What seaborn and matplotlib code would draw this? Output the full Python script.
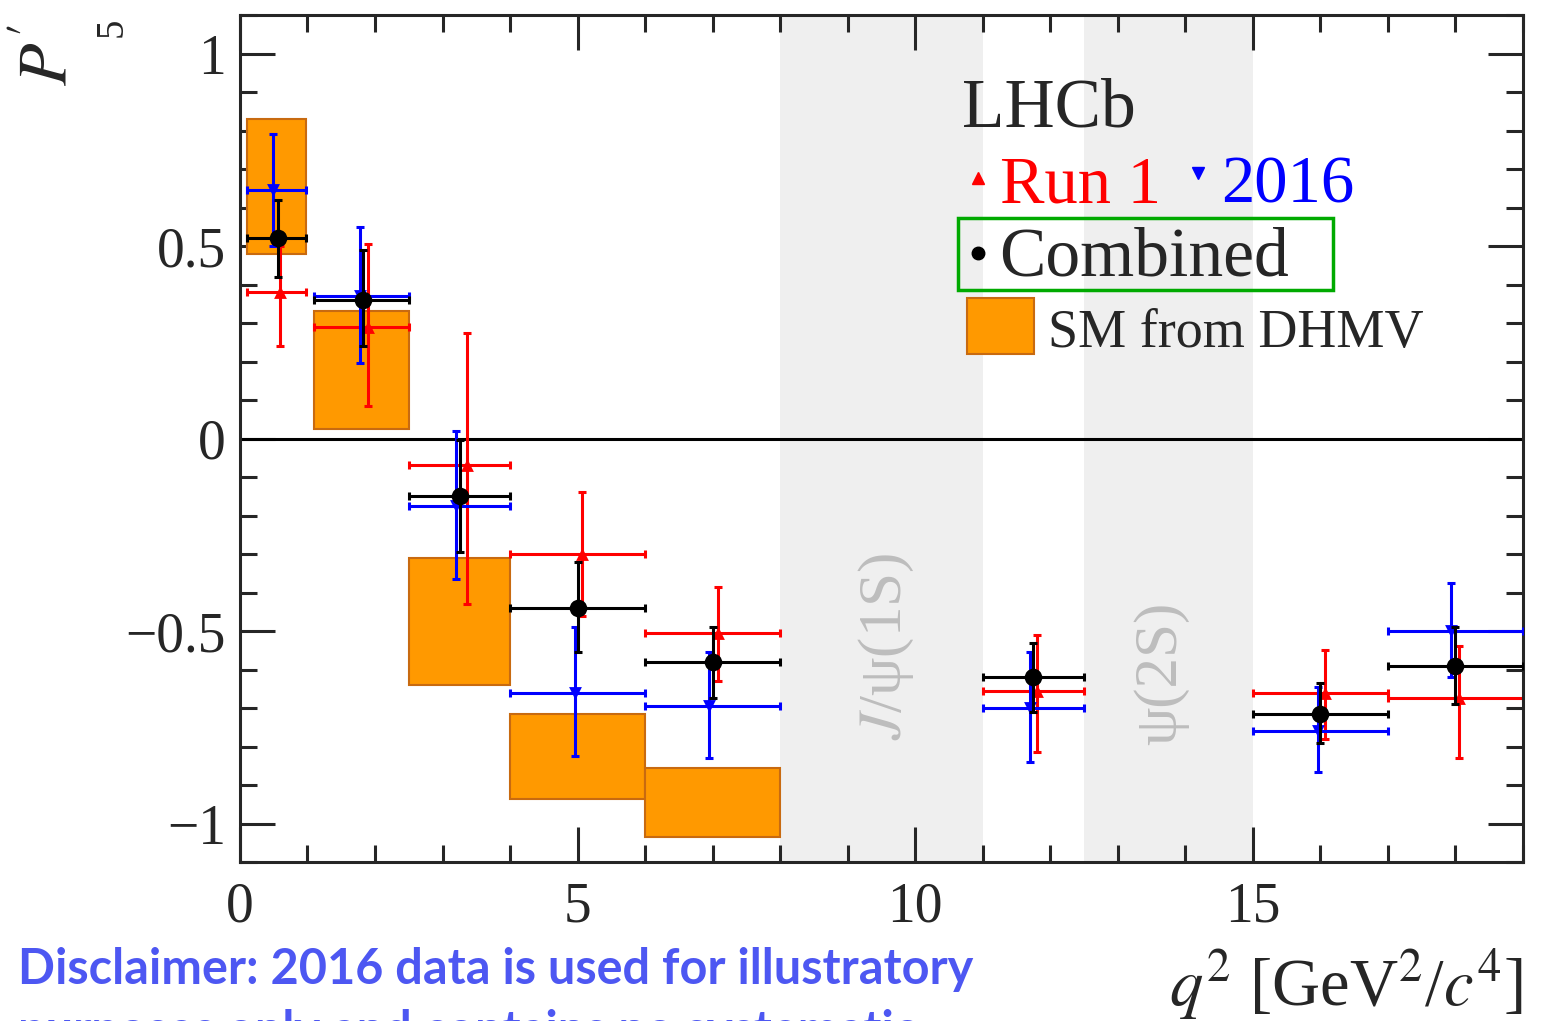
import numpy as np
import seaborn as sns
import matplotlib.pyplot as plt
from matplotlib.ticker import MultipleLocator, FuncFormatter
from matplotlib.patches import Rectangle

# q2 bins [GeV^2/c^4]
bin_lo = [0.10, 1.1, 2.5, 4.0, 6.0, 11.0, 15.0, 17.0]
bin_hi = [0.98, 2.5, 4.0, 6.0, 8.0, 12.5, 17.0, 19.0]

# Run 1
run1_x = [0.59, 1.90, 3.36, 5.07, 7.08, 11.80, 16.07, 18.05]
run1_y = [0.38, 0.29, -0.07, -0.30, -0.505, -0.655, -0.66, -0.675]
run1_hi = [0.50, 0.505, 0.275, -0.14, -0.385, -0.51, -0.55, -0.54]
run1_lo = [0.24, 0.085, -0.43, -0.46, -0.63, -0.815, -0.78, -0.83]

# 2016
y16_x = [0.49, 1.78, 3.20, 4.96, 6.95, 11.70, 15.96, 17.93]
y16_y = [0.645, 0.37, -0.175, -0.66, -0.695, -0.70, -0.76, -0.50]
y16_hi = [0.79, 0.55, 0.02, -0.49, -0.555, -0.555, -0.645, -0.375]
y16_lo = [0.50, 0.195, -0.365, -0.825, -0.83, -0.84, -0.865, -0.62]

# combined
comb_x = [0.56, 1.82, 3.26, 5.00, 7.00, 11.75, 16.00, 18.00]
comb_y = [0.52, 0.36, -0.15, -0.44, -0.58, -0.62, -0.715, -0.59]
comb_hi = [0.62, 0.49, -0.005, -0.32, -0.49, -0.53, -0.635, -0.49]
comb_lo = [0.42, 0.24, -0.295, -0.555, -0.675, -0.71, -0.79, -0.69]

# SM prediction (DHMV), first five bins
sm_lo = [0.48, 0.025, -0.64, -0.935, -1.035]
sm_hi = [0.83, 0.33, -0.31, -0.715, -0.855]

# charmonium vetoes
veto_lo = [8.0, 12.5]
veto_hi = [11.0, 15.0]

sns.set_style("ticks")
plt.rcParams['font.family'] = ['Liberation Serif', 'DejaVu Serif']
plt.rcParams['mathtext.fontset'] = 'stix'

fig = plt.figure(figsize=(15.53, 10.21), dpi=100)
ax = fig.add_axes([0.1545, 0.1557, 0.8262, 0.8296])

for lo, hi in zip(veto_lo, veto_hi):
    ax.axvspan(lo, hi, color='#efefef', lw=0, zorder=0)
ax.text(9.57, -0.54, '$J$/ψ(1S)', rotation=90, color='#bdbdbd', fontsize=44,
        ha='center', va='center')
ax.text(13.64, -0.61, 'ψ(2S)', rotation=90, color='#bdbdbd', fontsize=44,
        ha='center', va='center')

# SM boxes
n_sm = len(sm_lo)
b_lo = np.array(bin_lo[:n_sm])
b_hi = np.array(bin_hi[:n_sm])
ax.bar((b_lo + b_hi) / 2, np.array(sm_hi) - np.array(sm_lo), width=b_hi - b_lo,
       bottom=sm_lo, color='#ff9900', edgecolor='#c86a10', linewidth=1.5, zorder=1)

ax.axhline(0, color='black', lw=2.2, zorder=1.5)


def draw_series(x, y, hi, lo, color, marker, s, z):
    x = np.array(x)
    y = np.array(y)
    xerr = [x - np.array(bin_lo), np.array(bin_hi) - x]
    yerr = [y - np.array(lo), np.array(hi) - y]
    ax.errorbar(x, y, xerr=xerr, yerr=yerr, fmt='none', ecolor=color,
                elinewidth=2.2, capsize=3, capthick=2.2, zorder=z)
    sns.scatterplot(x=x, y=y, color=color, marker=marker, s=s, linewidth=0,
                    ax=ax, zorder=z + 0.5)


draw_series(run1_x, run1_y, run1_hi, run1_lo, 'red', '^', 85, 2)
draw_series(y16_x, y16_y, y16_hi, y16_lo, 'blue', 'v', 85, 3)
draw_series(comb_x, comb_y, comb_hi, comb_lo, 'black', 'o', 160, 4)

ax.set_xlim(0, 19)
ax.set_ylim(-1.1, 1.1)
ax.xaxis.set_major_locator(MultipleLocator(5))
ax.xaxis.set_minor_locator(MultipleLocator(1))
ax.yaxis.set_major_locator(MultipleLocator(0.5))
ax.yaxis.set_minor_locator(MultipleLocator(0.1))
ax.yaxis.set_major_formatter(FuncFormatter(lambda v, p: ('%g' % v).replace('-', '\u2212')))
ax.tick_params(which='both', direction='in', top=True, right=True, width=2.2,
               labelsize=40)
ax.tick_params(which='major', length=25)
ax.tick_params(which='minor', length=12)
ax.tick_params(axis='x', pad=14)
ax.tick_params(axis='y', pad=10)
for sp in ax.spines.values():
    sp.set_linewidth(2.2)
ax.set_xlabel('')
ax.set_ylabel('')

# legend block
tr = ax.transAxes
ax.text(0.563, 0.868, 'LHCb', transform=tr, fontsize=50, va='baseline')
ax.plot([0.575], [0.808], marker='^', color='red', ms=8, ls='none', transform=tr)
ax.text(0.592, 0.779, 'Run 1', transform=tr, fontsize=48, color='red', va='baseline')
ax.plot([0.747], [0.813], marker='v', color='blue', ms=8, ls='none', transform=tr)
ax.text(0.765, 0.779, '2016', transform=tr, fontsize=48, color='blue', va='baseline')
ax.plot([0.575], [0.719], marker='o', color='black', ms=9, ls='none', transform=tr)
ax.text(0.592, 0.693, 'Combined', transform=tr, fontsize=50, va='baseline')
ax.add_patch(Rectangle((0.5596, 0.6753), 0.2923, 0.085, transform=tr, fill=False,
                       edgecolor='#00aa00', lw=2.5, zorder=6))
ax.add_patch(Rectangle((0.567, 0.600), 0.052, 0.066, transform=tr, facecolor='#ff9900',
                       edgecolor='#c86a10', lw=1.5, zorder=6))
ax.text(0.630, 0.608, 'SM from DHMV', transform=tr, fontsize=39, va='baseline')

# axis titles
fig.text(0.032, 0.946, "$P'$", rotation=90, fontsize=50, ha='center', va='center')
fig.text(0.072, 0.9736, '5', rotation=90, fontsize=28, ha='center', va='center')
fig.text(0.9807, 0.0157, '$q^2$ [GeV$^2$/$c^4$]', fontsize=48, ha='right', va='baseline')

# disclaimer
fig.text(0.0116, 1 - 984 / 1021, 'Disclaimer: 2016 data is used for illustratory',
         fontsize=35, color='#4d57f2', family=['Lato', 'DejaVu Sans'], weight='bold',
         va='baseline')
fig.text(0.0116, 1 - 1046 / 1021, 'purposes only and contains no systematic',
         fontsize=35, color='#4d57f2', family=['Lato', 'DejaVu Sans'], weight='bold',
         va='baseline')

plt.savefig('out.png', dpi=100)
